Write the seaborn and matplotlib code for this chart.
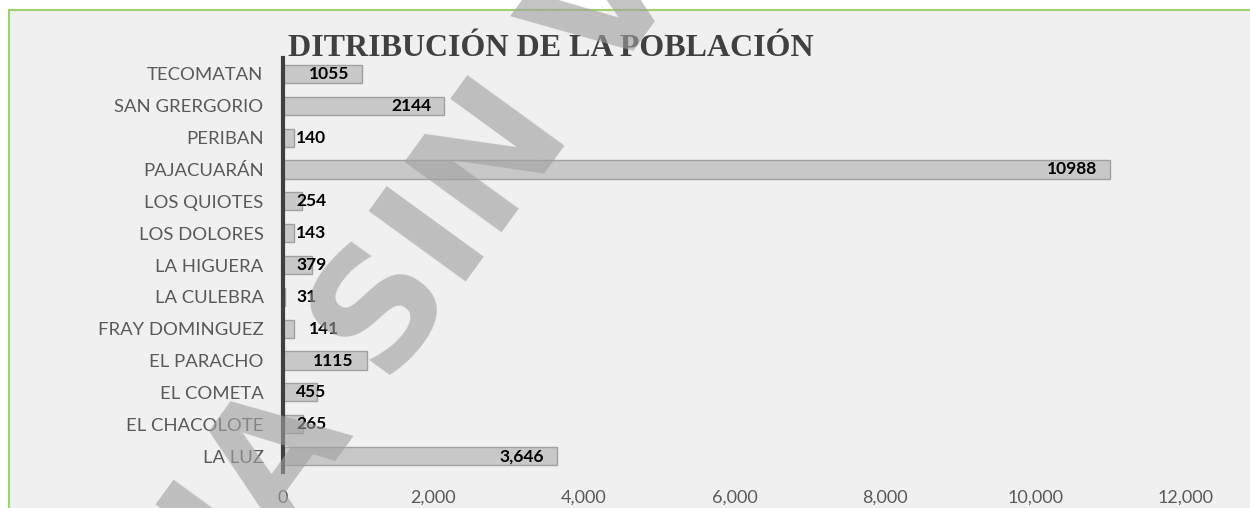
import matplotlib
matplotlib.use("Agg")
import matplotlib.pyplot as plt
import matplotlib.patches as mpatches
import matplotlib.ticker as mticker
import seaborn as sns
import pandas as pd

localidades = ["TECOMATAN", "SAN GRERGORIO", "PERIBAN", "PAJACUARÁN", "LOS QUIOTES",
               "LOS DOLORES", "LA HIGUERA", "LA CULEBRA", "FRAY DOMINGUEZ", "EL PARACHO",
               "EL COMETA", "EL CHACOLOTE", "LA LUZ"]
poblacion = [1055, 2144, 140, 10988, 254, 143, 379, 31, 141, 1115, 455, 265, 3646]
etiquetas = ["1055", "2144", "140", "10988", "254", "143", "379", "31", "141", "1115",
             "455", "265", "3,646"]
x_ticks = [0, 2000, 4000, 6000, 8000, 10000, 12000]

df = pd.DataFrame({"localidad": localidades, "poblacion": poblacion})

sns.set_style("white")
plt.rcParams["font.family"] = ["Lato", "DejaVu Sans"]

fig = plt.figure(figsize=(12.5, 5.08), dpi=100, facecolor="white")
# chart area with green border (left/top)
fig.patches.append(mpatches.Rectangle((9 / 1250, -0.1), 1.1, 1 - 10 / 508 + 0.1,
                                      transform=fig.transFigure, facecolor="#f0f0f0",
                                      edgecolor="#9ed26a", linewidth=1.5, zorder=-10))

ax = fig.add_axes([283 / 1250, 1 - 472 / 508, (1186 - 283) / 1250, 414 / 508])
ax.set_facecolor("none")
sns.barplot(data=df, x="poblacion", y="localidad", order=localidades, orient="h",
            color="#c8c8c8", saturation=1, width=0.57, edgecolor="#a0a0a0",
            linewidth=1, ax=ax)

for i, (v, lab) in enumerate(zip(poblacion, etiquetas)):
    if v > 1000:
        ax.annotate(lab, (v, i), xytext=(-13, 0), textcoords="offset pixels",
                    ha="right", va="center", fontsize=12.5, fontweight="bold", color="black")
    else:
        dx = 26 if lab == "141" else 13
        ax.annotate(lab, (0, i), xytext=(dx, 0), textcoords="offset pixels",
                    ha="left", va="center", fontsize=12.5, fontweight="bold", color="black")

ax.set_xlim(0, 12000)
ax.set_ylim(12.5, -0.5)
ax.set_xticks(x_ticks)
ax.xaxis.set_major_formatter(mticker.StrMethodFormatter("{x:,.0f}"))
ax.set_xlabel("")
ax.set_ylabel("")
ax.tick_params(axis="x", length=0, pad=13, labelsize=13, labelcolor="#595959")
ax.tick_params(axis="y", length=0, pad=14, labelsize=13.3, labelcolor="#595959")
for s in ["top", "right", "bottom"]:
    ax.spines[s].set_visible(False)
ax.spines["left"].set_color("#404040")
ax.spines["left"].set_linewidth(3)
ax.grid(False)

fig.text(288 / 1250, 1 - 56 / 508, "DITRIBUCIÓN DE LA POBLACIÓN", ha="left", va="baseline",
         fontsize=23, fontweight="bold", color="#404040", family=["Liberation Serif"])

# watermark
fig.text(505 / 1250, 1 - 150 / 508, "COPIA SIN VALIDEZ", ha="center", va="center",
         rotation=54, rotation_mode="anchor", fontsize=118, fontweight="bold",
         color="#a0a0a0", alpha=0.62, family=["DejaVu Sans"], zorder=20)

fig.savefig("out.png", dpi=100, facecolor=fig.get_facecolor())
